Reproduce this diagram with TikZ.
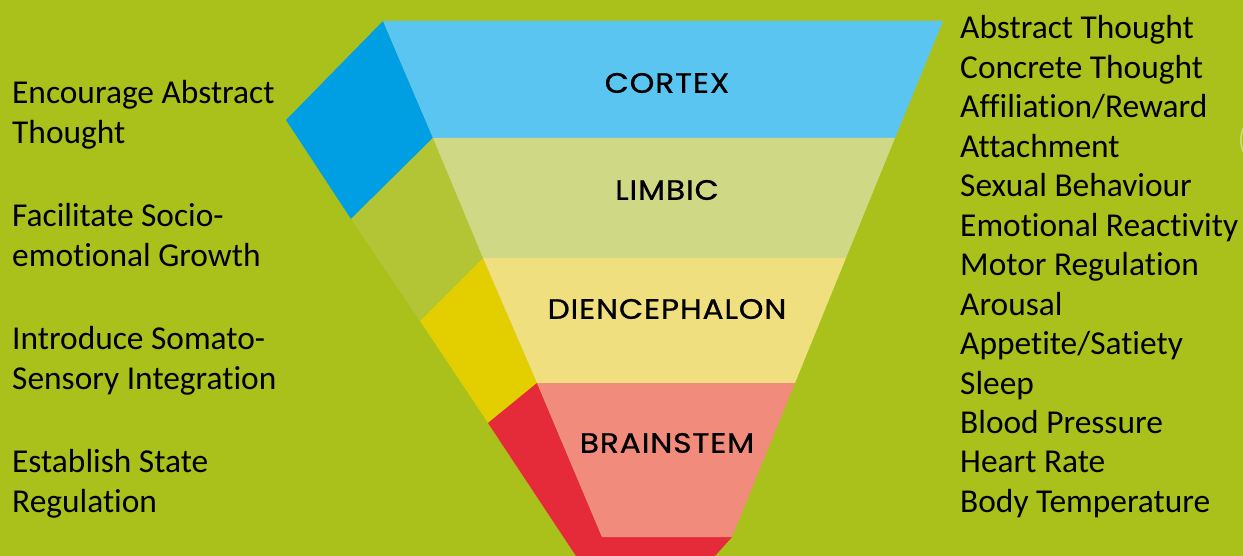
\documentclass[tikz,border=0pt]{standalone}
\usepackage{fontspec}
\setmainfont{Carlito}[Ligatures=NoCommon]
\newfontfamily\labfont{Poppins}[LetterSpace=3,FakeStretch=1.12,FakeBold=0.8]
\definecolor{bg}{HTML}{A9C11A}
\definecolor{cortexL}{HTML}{5BC5F2}
\definecolor{cortexD}{HTML}{009FE3}
\definecolor{limbicL}{HTML}{CFD985}
\definecolor{limbicD}{HTML}{B3C535}
\definecolor{dienL}{HTML}{F0DF7E}
\definecolor{dienD}{HTML}{E3CE00}
\definecolor{brainL}{HTML}{F18C7D}
\definecolor{brainD}{HTML}{E52A3A}
\definecolor{glow}{HTML}{C9D879}
\begin{document}
\begin{tikzpicture}[x=1pt,y=-1pt,
  txt/.style={anchor=base west,inner sep=0pt,font=\fontsize{33.4}{40}\selectfont,text=black},
  lab/.style={anchor=center,inner sep=0pt,font=\labfont\fontsize{28}{32}\selectfont,text=black}]
\useasboundingbox (0,0) rectangle (1243,556);
\fill[bg] (0,0) rectangle (1243,556);
\begin{scope}
\clip (0,0) rectangle (1243,556);
\fill[glow] (1292,140) ellipse [x radius=52pt, y radius=40pt];
\fill[bg] (1296,140) ellipse [x radius=54pt, y radius=46pt];
\end{scope}
% side faces
\fill[cortexD] (383,21) -- (433,138) -- (351,219) -- (286,120) -- cycle;
\fill[limbicD] (433,138) -- (483,258) -- (420,321) -- (351,219) -- cycle;
\fill[dienD] (483,258) -- (537,383) -- (488,423) -- (420,321) -- cycle;
\fill[brainD] (537,383) -- (602,537) -- (732,537) -- (715,556) -- (576,556) -- (488,423) -- cycle;
% front faces
\fill[cortexL] (383,21) -- (943,21) -- (895,138) -- (433,138) -- cycle;
\fill[limbicL] (433,138) -- (895,138) -- (846,258) -- (483,258) -- cycle;
\fill[dienL] (483,258) -- (846,258) -- (795,383) -- (537,383) -- cycle;
\fill[brainL] (537,383) -- (795,383) -- (732,537) -- (602,537) -- cycle;
% labels
\node[lab] (cortex) at (667,83) {CORTEX};
\node[lab] (limbic) at (667,190) {LIMBIC};
\node[lab] (dien) at (667,309) {DIENCEPHALON};
\node[lab] (brain) at (667,443) {BRAINSTEM};
% left texts
\node[txt] (l1a) at (12,103.5) {Encourage Abstract};
\node[txt] (l1b) at (12,143.5) {Thought};
\node[txt] (l2a) at (12,226.3) {Facilitate Socio-};
\node[txt] (l2b) at (12,266.3) {emotional Growth};
\node[txt] (l3a) at (12,349.1) {Introduce Somato-};
\node[txt] (l3b) at (12,389.1) {Sensory Integration};
\node[txt] (l4a) at (12,472.5) {Establish State};
\node[txt] (l4b) at (12,512.5) {Regulation};
% right texts
\foreach \t [count=\i from 0] in {Abstract Thought,Concrete Thought,Affiliation/Reward,Attachment,Sexual Behaviour,Emotional Reactivity,Motor Regulation,Arousal,Appetite/Satiety,Sleep,Blood Pressure,Heart Rate,Body Temperature}
  \node[txt] (r\i) at (960,39+39.45*\i) {\t};
\end{tikzpicture}
\end{document}
